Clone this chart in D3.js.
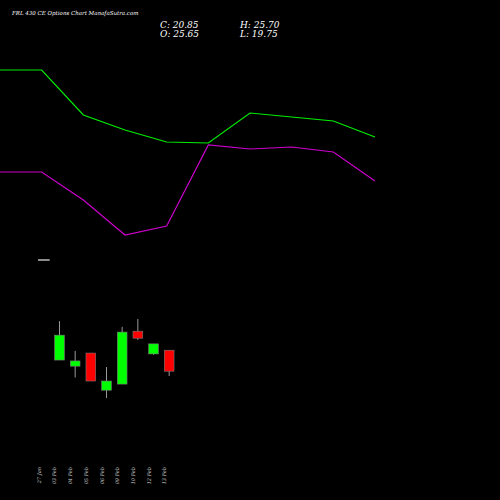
<!DOCTYPE html>
<html lang="en">
<head>
  <meta charset="UTF-8" />
  <title>FRL 430 CE</title>
  <script src="https://cdn.jsdelivr.net/npm/d3@7/dist/d3.min.js"></script>
  <style>body{margin:0;background:#000}</style>
</head>
<body>
<svg id="svg"></svg>
<script>
  const dates = ["27 Jan", "03 Feb", "04 Feb", "05 Feb", "06 Feb", "09 Feb", "10 Feb", "12 Feb", "13 Feb"];
  const opens = [46.3, 23.4, 22.0, 25.0, 16.5, 17.9, 30.0, 24.8, 25.65];
  const highs = [46.3, 32.3, 25.5, 25.0, 21.8, 31.0, 32.8, 27.1, 25.70];
  const lows = [46.3, 23.4, 19.4, 18.6, 14.7, 17.9, 28.0, 24.6, 19.75];
  const closes = [46.3, 29.1, 23.2, 18.6, 18.6, 29.8, 28.4, 27.1, 20.85];

  // indicator lines (0 .. 9 steps)
  const greenLine = [90, 90, 67.5, 60, 54, 53.5, 68.5, 66.5, 64.5, 56.5];
  const purpleLine = [39, 39, 25, 7.5, 12, 52.5, 50.5, 51.5, 49, 34.5];

  const width = 500, height = 500;
  const svg = d3.select("#svg").attr("width", width).attr("height", height)
    .style("background", "#000");

  const serif = "'DejaVu Serif', 'Liberation Serif', serif";
  svg.append("text").text("FRL 430 CE Options Chart ManafaSutra.com")
    .attr("x", 12).attr("y", 15).attr("fill", "#fff")
    .attr("font-size", 5.5).attr("font-style", "italic").attr("font-family", serif);
  [["C: 20.85", 160, 28], ["H: 25.70", 240, 28], ["O: 25.65", 160, 37], ["L: 19.75", 240, 37]]
    .forEach(([t, x, y]) => svg.append("text").text(t).attr("x", x).attr("y", y)
      .attr("fill", "#fff").attr("font-size", 9).attr("font-style", "italic").attr("font-family", serif));

  // lines
  const xl = d3.scaleLinear().domain([0, 9]).range([0, 375]);
  const yl = d3.scaleLinear().domain([0, 100]).range([250, 50]);
  const line = d3.line().x((d, i) => xl(i)).y(d => yl(d));
  svg.append("path").datum(greenLine).attr("d", line).attr("fill", "none")
    .attr("stroke", "#00ee00").attr("stroke-width", 1.2);
  svg.append("path").datum(purpleLine).attr("d", line).attr("fill", "none")
    .attr("stroke", "#cc00cc").attr("stroke-width", 1.2);

  // candles
  const x = d3.scaleBand().domain(dates).range([33, 180]).padding(0.38);
  const y = d3.scaleLinear().domain([19.75, 25.70]).range([376, 350]);
  dates.forEach((d, i) => {
    const cx = x(d) + x.bandwidth() / 2;
    const up = closes[i] >= opens[i];
    if (highs[i] === lows[i]) {
      svg.append("line").attr("x1", x(d) - 1).attr("x2", x(d) + x.bandwidth() + 1)
        .attr("y1", y(opens[i])).attr("y2", y(opens[i])).attr("stroke", "#bbb").attr("stroke-width", 1.5);
      return;
    }
    svg.append("line").attr("x1", cx).attr("x2", cx)
      .attr("y1", y(highs[i])).attr("y2", y(lows[i])).attr("stroke", "#999");
    svg.append("rect").attr("x", x(d)).attr("width", x.bandwidth())
      .attr("y", y(Math.max(opens[i], closes[i])))
      .attr("height", Math.max(1, Math.abs(y(opens[i]) - y(closes[i]))))
      .attr("fill", up ? "#00ff00" : "#ff0000").attr("stroke", "#777").attr("stroke-width", 0.6);
  });

  dates.forEach(d => {
    const cx = x(d) + x.bandwidth() / 2 - 3;
    svg.append("text").text(d).attr("fill", "#ccc").attr("font-size", 5)
      .attr("font-style", "italic").attr("font-family", serif)
      .attr("text-anchor", "end")
      .attr("transform", `translate(${cx},467) rotate(-90)`);
  });
</script>
</body>
</html>
